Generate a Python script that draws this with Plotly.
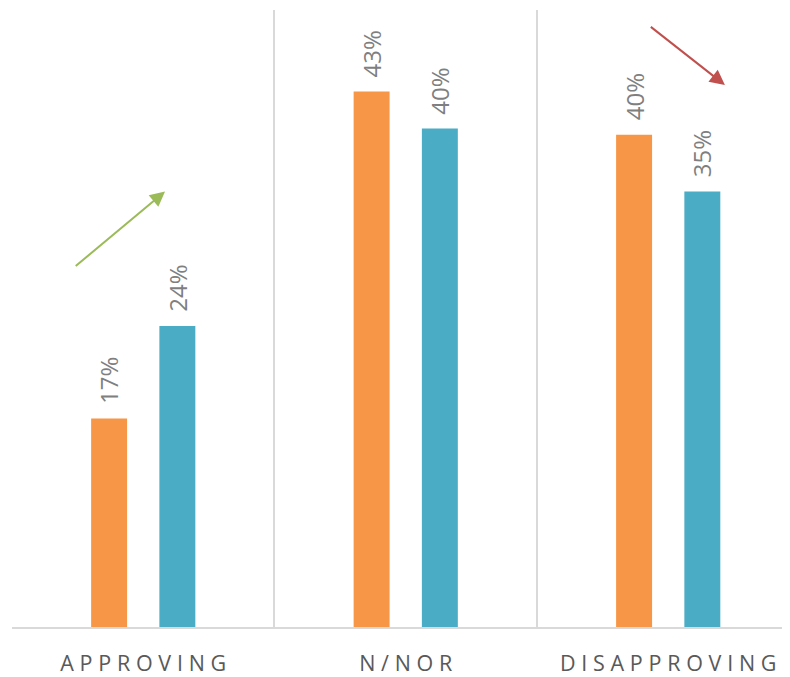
import plotly.graph_objects as go

categories = ["APPROVING", "N/NOR", "DISAPPROVING"]
series_a = [0.169, 0.434, 0.399]   # orange (earlier)
series_b = [0.244, 0.404, 0.353]   # teal (later)
labels_a = ["17%", "43%", "40%"]
labels_b = ["24%", "40%", "35%"]

ORANGE = "#F79646"
TEAL = "#4BACC6"
GRID = "#D9D9D9"
LABEL = "#7F7F7F"
CAT = "#595959"

off = 0.13
bw = 0.137
xs = list(range(len(categories)))

fig = go.Figure()
fig.add_trace(go.Bar(x=[i - off for i in xs], y=series_a, width=bw,
                     marker=dict(color=ORANGE, line=dict(width=0)), showlegend=False, hoverinfo="y"))
fig.add_trace(go.Bar(x=[i + off for i in xs], y=series_b, width=bw,
                     marker=dict(color=TEAL, line=dict(width=0)), showlegend=False, hoverinfo="y"))

annos = []
for i in xs:
    for dx, v, t in ((-off, series_a[i], labels_a[i]), (off, series_b[i], labels_b[i])):
        annos.append(dict(x=i + dx, y=v, xref="x", yref="y", text=t, textangle=-90,
                          showarrow=False, xanchor="center", yanchor="bottom", yshift=12,
                          font=dict(family="Open Sans", size=24, color=LABEL)))

# trend arrows
annos.append(dict(x=0.083, y=0.353, ax=-0.263, ay=0.2915, xref="x", yref="y", axref="x", ayref="y",
                  showarrow=True, arrowhead=2, arrowsize=1.5, arrowwidth=2, arrowcolor="#9BBB59", text=""))
annos.append(dict(x=2.216, y=0.4392, ax=1.928, ay=0.4873, xref="x", yref="y", axref="x", ayref="y",
                  showarrow=True, arrowhead=2, arrowsize=1.5, arrowwidth=2, arrowcolor="#C0504D", text=""))

spaced = ["\u2009\u200a".join(list(c)) for c in categories]

fig.update_layout(
    width=782, height=669,
    margin=dict(l=4, r=0, t=2, b=50),
    paper_bgcolor="white", plot_bgcolor="white",
    barmode="overlay",
    annotations=annos,
    xaxis=dict(range=[-0.5, 2.464], tickvals=xs, ticktext=spaced, showgrid=False, zeroline=False,
               showline=True, linecolor=GRID, linewidth=2, ticks="", ticklabelstandoff=16,
               tickfont=dict(family="Open Sans", size=21.5, color=CAT),
               minor=dict(tickvals=[-0.5, 0.5, 1.5, 2.5], showgrid=True, gridcolor=GRID, gridwidth=1.5, ticks="")),
    yaxis=dict(range=[0, 0.5], visible=False, showgrid=False, zeroline=False),
)

fig.write_html("out.html")
